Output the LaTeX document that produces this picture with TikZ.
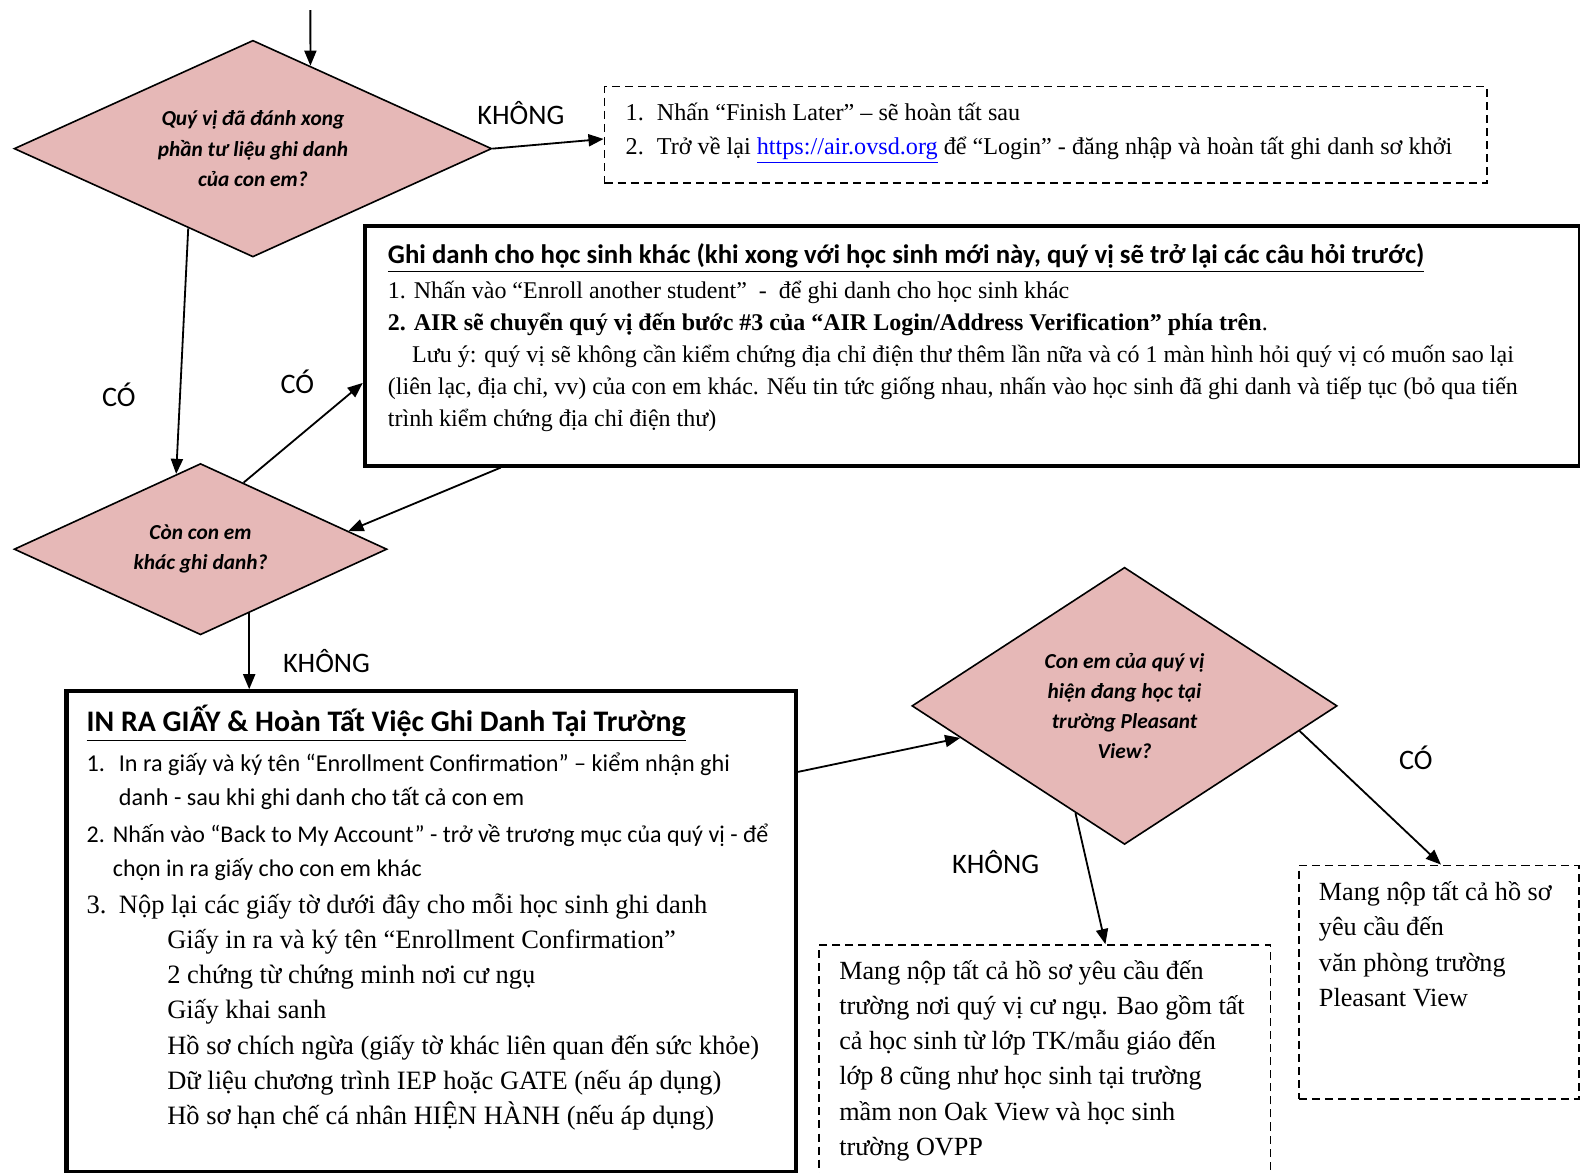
\documentclass[tikz,border=0pt]{standalone}
\usepackage{fontspec}
\setmainfont{Liberation Serif}
\newfontfamily\calibri{Carlito}
\usetikzlibrary{shapes.geometric,arrows.meta,calc}
\definecolor{decpink}{HTML}{E6B8B7}
\definecolor{urlblue}{HTML}{0000FF}
\tikzset{
  decision/.style={diamond, draw, fill=decpink, line width=0.8pt, inner sep=0pt, align=center,
    font=\calibri\bfseries\itshape\fontsize{10.6}{15}\selectfont},
  bigbox/.style={draw, line width=2pt, anchor=north west, inner xsep=0pt, inner ysep=9pt},
  notebox/.style={draw, line width=0.9pt, dash pattern=on 4pt off 2.5pt, anchor=north west, inner xsep=0pt, inner ysep=8pt},
  answer/.style={font=\calibri\fontsize{14}{16}\selectfont},
  flow/.style={-{Triangle[length=7.5pt,width=6pt]}, line width=0.9pt},
}

\begin{document}
\begin{tikzpicture}[x=0.5pt, y=-0.5pt]
\useasboundingbox (0,0) rectangle (1568,1164);
\clip (0,0) rectangle (1568,1164);

% questions
\node[decision, aspect=2.2, minimum width=237pt, minimum height=107.5pt] (finished) at (251,147.5)
  {Quý vị đã đánh xong\\phần tư liệu ghi danh\\của con em?};
\node[decision, aspect=2.18, minimum width=185pt, minimum height=85pt] (more) at (199,545)
  {Còn con em\\khác ghi danh?};
\node[decision, aspect=1.53, minimum width=211pt, minimum height=137.5pt] (pleasant) at (1116,700.5)
  {Con em của quý vị\\hiện đang học tại\\trường Pleasant\\View?};

% boxes
\node[notebox] (later) at (599,85) {\begin{minipage}[t][32pt][t]{438pt}\setlength\leftskip{10.5pt}
  \fontsize{12}{17}\selectfont
  \makebox[15.5pt][l]{1.}Nhấn “Finish Later” – sẽ hoàn tất sau\par
  \makebox[15.5pt][l]{2.}Trở về lại \textcolor{urlblue}{\underline{https://air.ovsd.org}} để “Login” - đăng nhập và hoàn tất ghi danh sơ khởi
  \end{minipage}};

\node[bigbox] (enroll) at (360,222) {\begin{minipage}[t][101pt][t]{603pt}\setlength\leftskip{11.5pt}
  {\calibri\bfseries\fontsize{13.3}{15}\selectfont\underline{Ghi danh cho học sinh khác (khi xong với học sinh mới này, quý vị sẽ trở lại các câu hỏi trước)}\par}
  \fontsize{11.9}{17}\selectfont
  1. Nhấn vào “Enroll another student”\ \ -\ \ để ghi danh cho học sinh khác\par
  \fontsize{11.9}{16}\selectfont
  \textbf{2. AIR sẽ chuyển quý vị đến bước \#3 của “AIR Login/Address Verification” phía trên}.\par
  \hspace*{12pt}Lưu ý: quý vị sẽ không cần kiểm chứng địa chỉ điện thư thêm lần nữa và có 1 màn hình hỏi quý vị có muốn sao lại\par
  (liên lạc, địa chỉ, vv) của con em khác. Nếu tin tức giống nhau, nhấn vào học sinh đã ghi danh và tiếp tục (bỏ qua tiến\par
  trình kiểm chứng địa chỉ điện thư)
  \end{minipage}};

\node[bigbox, inner ysep=7pt] (print) at (64,684) {\begin{minipage}[t][224.5pt][t]{362pt}\setlength\leftskip{10pt}
  {\calibri\bfseries\fontsize{14.8}{17}\selectfont\underline{IN RA GIẤY \& Hoàn Tất Việc Ghi Danh Tại Trường}\par}
  \calibri\fontsize{12}{19.5}\selectfont
  \makebox[16pt][l]{1.}In ra giấy và ký tên “Enrollment Confirmation” – kiểm nhận ghi\par
  \fontsize{12}{17}\selectfont
  \hspace*{16pt}danh - sau khi ghi danh cho tất cả con em\par
  \fontsize{11.9}{18.5}\selectfont
  \makebox[13pt][l]{2.}Nhấn vào “Back to My Account” - trở về trương mục của quý vị - để\par
  \fontsize{11.9}{17}\selectfont
  \hspace*{13pt}chọn in ra giấy cho con em khác\par
  \rmfamily\fontsize{13.15}{18}\selectfont
  \makebox[16pt][l]{3.}Nộp lại các giấy tờ dưới đây cho mỗi học sinh ghi danh\par
  \fontsize{13.15}{17.5}\selectfont
  \hspace*{40pt}Giấy in ra và ký tên “Enrollment Confirmation”\par
  \hspace*{40pt}2 chứng từ chứng minh nơi cư ngụ\par
  \hspace*{40pt}Giấy khai sanh\par
  \hspace*{40pt}Hồ sơ chích ngừa (giấy tờ khác liên quan đến sức khỏe)\par
  \hspace*{40pt}Dữ liệu chương trình IEP hoặc GATE (nếu áp dụng)\par
  \hspace*{40pt}Hồ sơ hạn chế cá nhân HIỆN HÀNH (nếu áp dụng)
  \end{minipage}};

\node[notebox, inner ysep=7.5pt] (local) at (812,937) {\begin{minipage}[t][126pt][t]{224pt}\setlength\leftskip{10pt}
  \fontsize{13}{17.5}\selectfont
  Mang nộp tất cả hồ sơ yêu cầu đến\par
  trường nơi quý vị cư ngụ. Bao gồm tất\par
  cả học sinh từ lớp TK/mẫu giáo đến\par
  lớp 8 cũng như học sinh tại trường\par
  mầm non Oak View và học sinh\par
  trường OVPP
  \end{minipage}};

\node[notebox] (pvoffice) at (1288,858) {\begin{minipage}[t][100pt][t]{139pt}\setlength\leftskip{10pt}
  \fontsize{13}{17.5}\selectfont
  Mang nộp tất cả hồ sơ\par
  yêu cầu đến\par
  văn phòng trường\par
  Pleasant View
  \end{minipage}};

% answers
\node[answer] (noLater) at (517,112) {KHÔNG};
\node[answer] (yesFinished) at (118,392) {CÓ};
\node[answer] (yesMore) at (295,379) {CÓ};
\node[answer] (noMore) at (324,656) {KHÔNG};
\node[answer] (noPleasant) at (988,855) {KHÔNG};
\node[answer] (yesPleasant) at (1405,752) {CÓ};

% arrows
\coordinate (entry) at (308,10);
\draw[flow] (entry) -- ($(finished.north)!0.24!(finished.east)$);
\draw[flow] (finished.east) -- ([yshift=-2pt]later.west);
\draw[flow] ($(finished.south)!0.27!(finished.west)$) -- ($(more.north)!0.13!(more.west)$);
\draw[flow] ($(more.north)!0.23!(more.east)$) -- ([yshift=-18.5pt]enroll.west);
\draw[flow] ([xshift=68.5pt]enroll.south west) -- ($(more.north)!0.79!(more.east)$);
\coordinate (drop) at ($(more.south)!0.26!(more.east)$);
\draw[flow] (drop) -- (drop |- print.north);
\draw[flow] ([yshift=-41pt]print.north east) -- ($(pleasant.west)!0.23!(pleasant.south)$);
\draw[flow] ($(pleasant.south)!0.23!(pleasant.west)$) -- ([xshift=142.5pt]local.north west);
\draw[flow] ($(pleasant.east)!0.18!(pleasant.south)$) -- ([xshift=71pt]pvoffice.north west);
\end{tikzpicture}
\end{document}
